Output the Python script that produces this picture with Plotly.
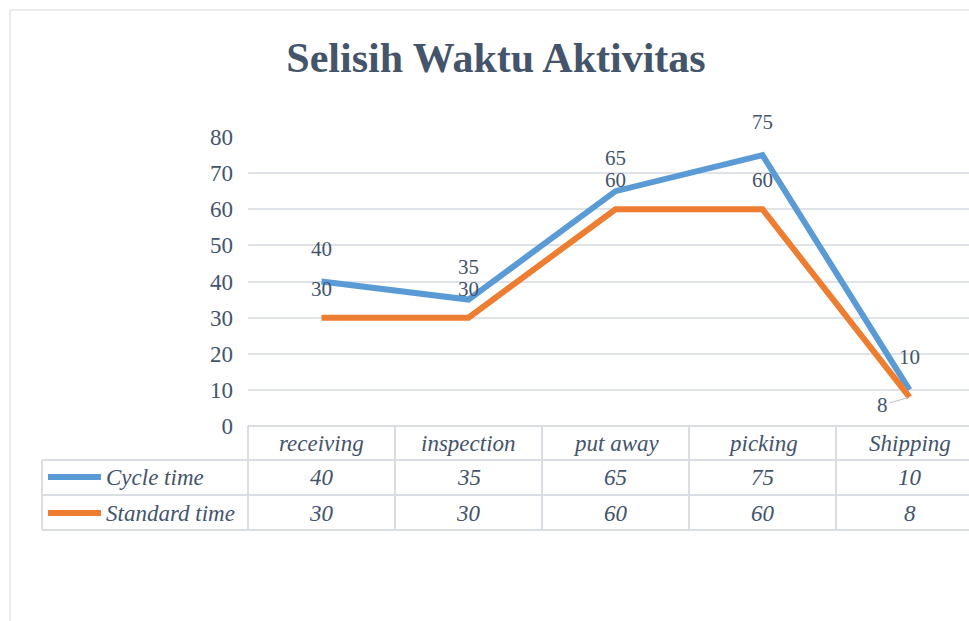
import plotly.graph_objects as go

categories = ["receiving", "inspection", "put away", "picking", "Shipping"]
cycle_time = [40, 35, 65, 75, 10]
standard_time = [30, 30, 60, 60, 8]
series_names = ["Cycle time", "Standard time"]
y_ticks = [0, 10, 20, 30, 40, 50, 60, 70, 80]

BLUE = "#5b9bd5"
ORANGE = "#ed7d31"
TEXT = "#44546a"
GRID = "#dfe3e8"
FONT = "Liberation Serif, Times New Roman, serif"

W, H = 969, 621
PL, PR, PT, PB = 248, 969, 137, 426


def xp(px):
    return (px - PL) / (PR - PL)


def yp(py):
    return (PB - py) / (PB - PT)


fig = go.Figure()
for name, vals, col in [(series_names[0], cycle_time, BLUE), (series_names[1], standard_time, ORANGE)]:
    fig.add_trace(go.Scatter(x=categories, y=vals, mode="lines", name=name,
                             line=dict(color=col, width=6), showlegend=False))

annotations = []
# data labels
for i, v in enumerate(cycle_time):
    annotations.append(dict(x=categories[i], y=v, xref="x", yref="y", text=str(v),
                            xanchor="center", yanchor="middle",
                            showarrow=False, yshift=33, font=dict(size=21, color=TEXT, family=FONT)))
for i, v in enumerate(standard_time):
    if i == len(standard_time) - 1:
        annotations.append(dict(x=categories[i], y=v, xref="x", yref="y", text=str(v),
                                showarrow=True, ax=-27, ay=8, arrowhead=0, arrowwidth=1,
                                arrowcolor="#bfbfbf", standoff=2,
                                font=dict(size=21, color=TEXT, family=FONT)))
    else:
        annotations.append(dict(x=categories[i], y=v, xref="x", yref="y", text=str(v),
                                xanchor="center", yanchor="middle",
                                showarrow=False, yshift=29, font=dict(size=21, color=TEXT, family=FONT)))

# table text
row_y = [443, 477, 513]
for c in categories:
    annotations.append(dict(x=c, y=yp(row_y[0]), xref="x", yref="paper", text="<i>%s</i>" % c,
                            xanchor="center", yanchor="middle",
                            showarrow=False, font=dict(size=23, color=TEXT, family=FONT)))
for r, vals in enumerate([cycle_time, standard_time]):
    for i, v in enumerate(vals):
        annotations.append(dict(x=categories[i], y=yp(row_y[r + 1]), xref="x", yref="paper",
                                text="<i>%s</i>" % v, showarrow=False,
                                xanchor="center", yanchor="middle",
                                font=dict(size=23, color=TEXT, family=FONT)))
    annotations.append(dict(x=xp(104), y=yp(row_y[r + 1]), xref="paper", yref="paper",
                            text="<i>%s</i>" % series_names[r], xanchor="left", yanchor="middle",
                            showarrow=False,
                            font=dict(size=23, color=TEXT, family=FONT)))

shapes = []
LC = "#dadee4"
# horizontal table lines
shapes.append(dict(type="line", xref="paper", yref="paper", x0=xp(248), x1=xp(969),
                   y0=yp(426), y1=yp(426), line=dict(color=LC, width=2)))
for py in [460, 495, 530]:
    shapes.append(dict(type="line", xref="paper", yref="paper", x0=xp(42), x1=xp(969),
                       y0=yp(py), y1=yp(py), line=dict(color=LC, width=2)))
# vertical table lines
shapes.append(dict(type="line", xref="paper", yref="paper", x0=xp(42), x1=xp(42),
                   y0=yp(460), y1=yp(530), line=dict(color=LC, width=2)))
for px in [248, 395, 542, 689, 836]:
    shapes.append(dict(type="line", xref="paper", yref="paper", x0=xp(px), x1=xp(px),
                       y0=yp(426), y1=yp(530), line=dict(color=LC, width=2)))
# legend keys
for r, col in enumerate([BLUE, ORANGE]):
    shapes.append(dict(type="line", xref="paper", yref="paper", x0=xp(48), x1=xp(101),
                       y0=yp(row_y[r + 1]), y1=yp(row_y[r + 1]), line=dict(color=col, width=6)))
# outer chart border (left and top)
shapes.append(dict(type="line", xref="paper", yref="paper", x0=xp(10), x1=xp(10),
                   y0=yp(10), y1=yp(621), line=dict(color="#d9d9d9", width=1)))
shapes.append(dict(type="line", xref="paper", yref="paper", x0=xp(10), x1=xp(969),
                   y0=yp(10), y1=yp(10), line=dict(color="#d9d9d9", width=1)))

fig.update_layout(
    width=W, height=H,
    margin=dict(l=PL, r=W - PR, t=PT, b=H - PB, pad=0),
    paper_bgcolor="white", plot_bgcolor="white",
    title=dict(text="<b>Selisih Waktu Aktivitas</b>", x=496 / W, xanchor="center",
               xref="container", yref="container", y=1 - 57 / H, yanchor="middle",
               font=dict(size=42, color=TEXT, family=FONT)),
    xaxis=dict(type="category", categoryarray=categories, range=[-0.5, -0.5 + (PR - PL) / 147.0],
               showticklabels=False, showgrid=False, zeroline=False, showline=False, ticks=""),
    yaxis=dict(range=[0, 80], tickvals=y_ticks, showgrid=True, gridcolor=GRID, gridwidth=2,
               zeroline=False, showline=False, ticks="", ticklabelstandoff=14,
               tickfont=dict(size=23, color=TEXT, family=FONT)),
    annotations=annotations,
    shapes=shapes,
    showlegend=False,
)

fig.write_html("out.html", config={"displayModeBar": False},
               post_script="document.body.style.margin='0';")
